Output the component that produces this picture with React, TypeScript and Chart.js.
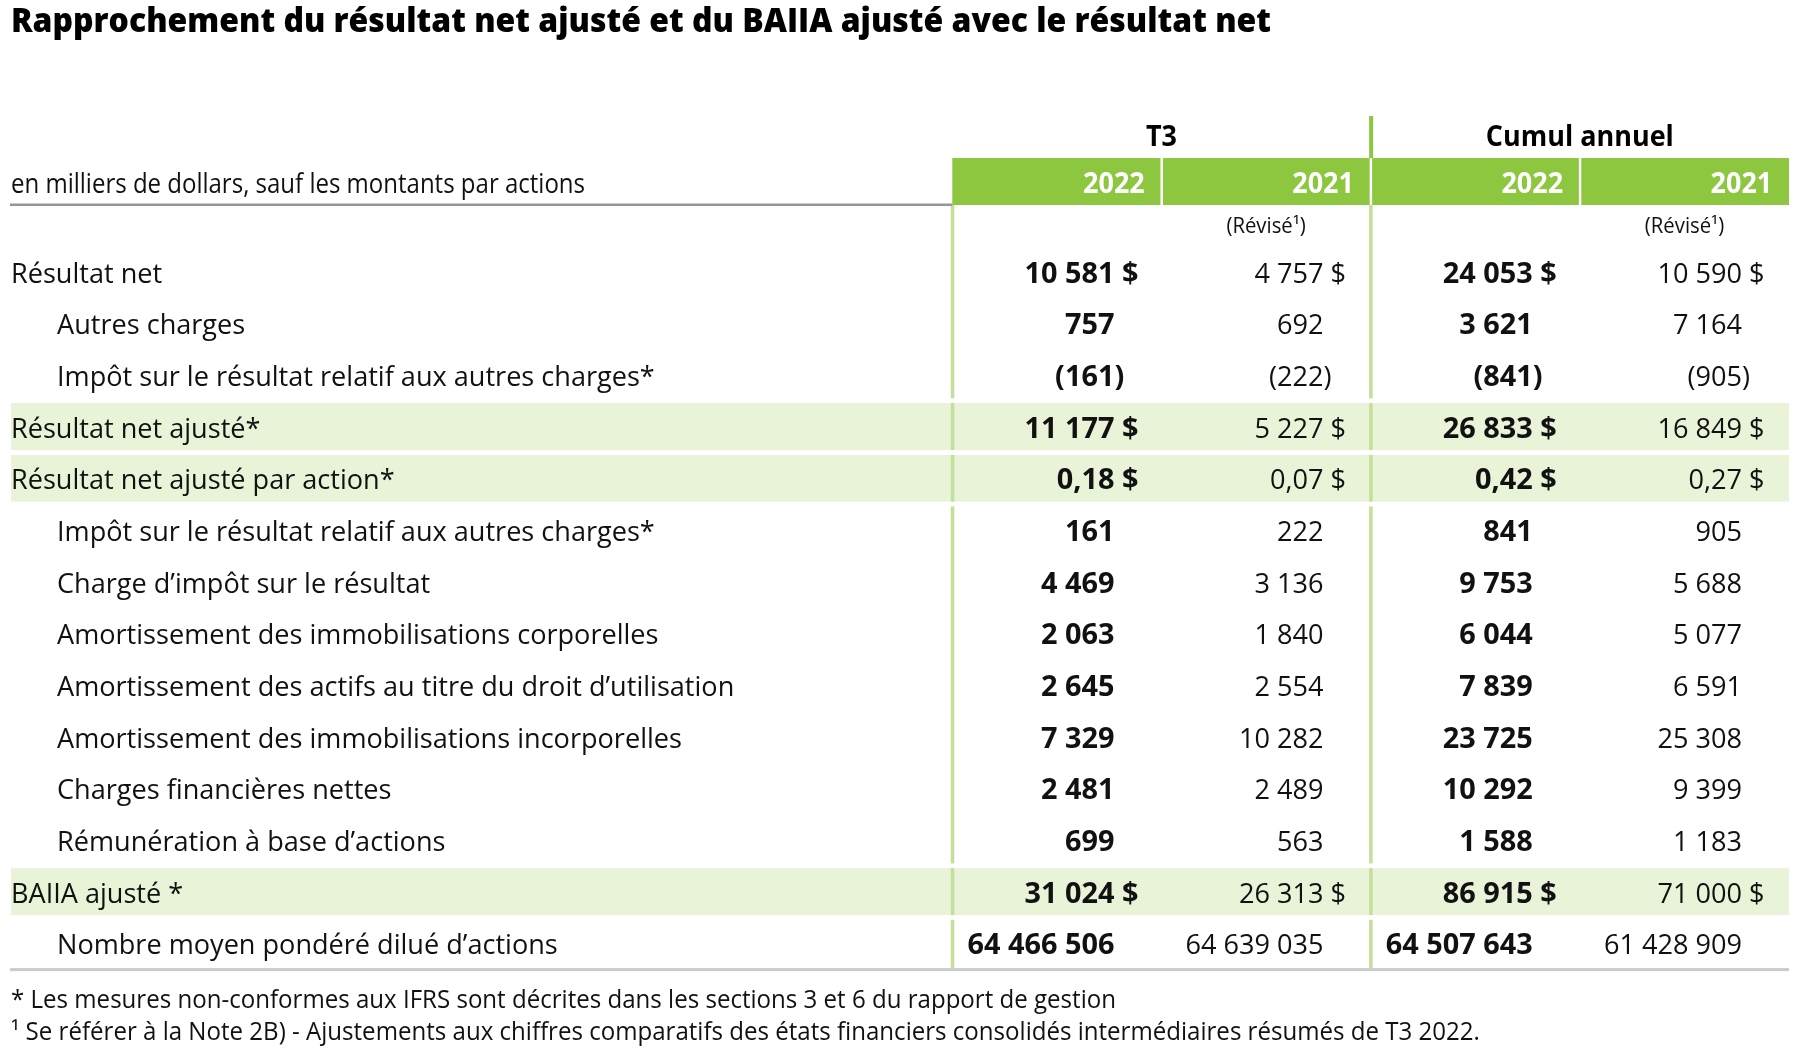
import React, { useEffect, useRef } from 'react';
import { Chart, registerables } from 'chart.js';

Chart.register(...registerables);

// ---------- data ----------
const titleText = 'Rapprochement du résultat net ajusté et du BAIIA ajusté avec le résultat net';
const unitNote = 'en milliers de dollars, sauf les montants par actions';
const groupTitles = ['T3', 'Cumul annuel'];
const columnYears = ['2022', '2021', '2022', '2021'];
const revisedColumns = [false, true, false, true];
const boldColumns = [true, false, true, false];
const revisedText = '(Révisé¹)';

const rowLabels = [
  'Résultat net',
  'Autres charges',
  'Impôt sur le résultat relatif aux autres charges*',
  'Résultat net ajusté*',
  'Résultat net ajusté par action*',
  'Impôt sur le résultat relatif aux autres charges*',
  'Charge d’impôt sur le résultat',
  'Amortissement des immobilisations corporelles',
  'Amortissement des actifs au titre du droit d’utilisation',
  'Amortissement des immobilisations incorporelles',
  'Charges financières nettes',
  'Rémunération à base d’actions',
  'BAIIA ajusté *',
  'Nombre moyen pondéré dilué d’actions',
];
const rowIndent = [0, 1, 1, 0, 0, 1, 1, 1, 1, 1, 1, 1, 0, 1];
const highlightedRows = [3, 4, 12];
const dollarRows = [0, 3, 4, 12];
const perShareRows = [4];

const t3_2022 = [10581, 757, -161, 11177, 0.18, 161, 4469, 2063, 2645, 7329, 2481, 699, 31024, 64466506];
const t3_2021 = [4757, 692, -222, 5227, 0.07, 222, 3136, 1840, 2554, 10282, 2489, 563, 26313, 64639035];
const ytd_2022 = [24053, 3621, -841, 26833, 0.42, 841, 9753, 6044, 7839, 23725, 10292, 1588, 86915, 64507643];
const ytd_2021 = [10590, 7164, -905, 16849, 0.27, 905, 5688, 5077, 6591, 25308, 9399, 1183, 71000, 61428909];
const valueColumns = [t3_2022, t3_2021, ytd_2022, ytd_2021];

const footnotes = [
  '* Les mesures non-conformes aux IFRS sont décrites dans les sections 3 et 6 du rapport de gestion',
  '¹ Se référer à la Note 2B) - Ajustements aux chiffres comparatifs des états financiers consolidés intermédiaires résumés de T3 2022.',
];

// ---------- style / layout ----------
const FAMILY = '"Open Sans", "Noto Sans", sans-serif';
const GREEN = '#8dc63f';
const LIGHT_GREEN_BG = '#e8f3d8';
const LIGHT_GREEN_LINE = '#c3e09b';
const GRAY_TOP = '#939598';
const GRAY_BOTTOM = '#c9cacc';
const TEXT = '#111111';

const INDENT = 0.22; // in x units
const NUM_ANCHOR = 0.775;
const YEAR_ANCHOR = 0.92;
const REVISED_ANCHOR = 0.69;
const BASE = 0.215;

function groupDigits(n: number) {
  return String(Math.round(n)).replace(/\B(?=(\d{3})+(?!\d))/g, ' ');
}
function formatCell(v: number, r: number) {
  const neg = v < 0;
  const a = Math.abs(v);
  const s = perShareRows.includes(r) ? a.toFixed(2).replace('.', ',') : groupDigits(a);
  if (neg) return { core: '(' + s, tail: ')' };
  return { core: s, tail: dollarRows.includes(r) ? ' $' : '' };
}

function measure(ctx: CanvasRenderingContext2D, font: string, text: string) {
  ctx.save();
  ctx.font = font;
  const w = ctx.measureText(text).width;
  ctx.restore();
  return w;
}

function drawText(
  ctx: CanvasRenderingContext2D,
  text: string,
  px: number,
  py: number,
  font: string,
  color: string,
  align: CanvasTextAlign,
  sx: number
) {
  ctx.save();
  ctx.font = font;
  ctx.fillStyle = color;
  ctx.textBaseline = 'alphabetic';
  ctx.textAlign = align;
  ctx.translate(px, py);
  ctx.scale(sx, 1);
  ctx.fillText(text, 0, 0);
  ctx.restore();
}

const F_REG = `400 28px ${FAMILY}`;
const F_NOTE = `400 27px ${FAMILY}`;
const F_BOLD = `700 28px ${FAMILY}`;
const F_HEAD = `700 28px ${FAMILY}`;
const F_TITLE = `800 34px ${FAMILY}`;
const F_SMALL = `400 21px ${FAMILY}`;
const F_FOOT = `400 25px ${FAMILY}`;

const tablePlugin = {
  id: 'tablePlugin',
  beforeDatasetsDraw(chart: any) {
    const { ctx, chartArea } = chart;
    const x = chart.scales.x;
    const y = chart.scales.y;
    const L = chartArea.left;
    const R = chartArea.right;
    ctx.save();
    // highlighted rows
    ctx.fillStyle = LIGHT_GREEN_BG;
    highlightedRows.forEach((r) => {
      const t = y.getPixelForValue(r - 0.455);
      const b = y.getPixelForValue(r + 0.455);
      ctx.fillRect(L, t, R - L, b - t);
    });
    // body vertical lines
    ctx.fillStyle = LIGHT_GREEN_LINE;
    [0, 2].forEach((c) => {
      const px = x.getPixelForValue(c);
      const t = y.getPixelForValue(-1.287);
      const b = y.getPixelForValue(13.48);
      ctx.fillRect(px - 1.5, t, 3.5, b - t);
    });
    // white gaps around highlighted rows
    ctx.fillStyle = '#ffffff';
    highlightedRows.forEach((r) => {
      [[r - 0.545, r - 0.455], [r + 0.455, r + 0.545]].forEach(([a, b]) => {
        const t = y.getPixelForValue(a);
        const bb = y.getPixelForValue(b);
        ctx.fillRect(L, t, R - L, bb - t);
      });
    });
    // header band
    const bandT = y.getPixelForValue(-2.196);
    const bandB = y.getPixelForValue(-1.287);
    const bandL = x.getPixelForValue(0);
    ctx.fillStyle = GREEN;
    ctx.fillRect(bandL, bandT, R - bandL, bandB - bandT);
    // white dividers in band
    ctx.fillStyle = '#ffffff';
    [1, 2, 3].forEach((c) => {
      const px = x.getPixelForValue(c);
      ctx.fillRect(px - 1, bandT, 2.5, bandB - bandT);
    });
    // green line between groups above band
    ctx.fillStyle = GREEN;
    const gx = x.getPixelForValue(2);
    const gt = y.getPixelForValue(-3.01);
    ctx.fillRect(gx - 1.5, gt, 4, bandT - gt);
    // gray line under unit note
    ctx.fillStyle = GRAY_TOP;
    ctx.fillRect(L - 1, bandB - 1.5, bandL - L + 1, 2.5);
    // bottom gray line
    ctx.fillStyle = GRAY_BOTTOM;
    const by = y.getPixelForValue(13.48);
    ctx.fillRect(L - 1, by, R - L + 1, 3);
    ctx.restore();
  },
  afterDatasetsDraw(chart: any) {
    const { ctx } = chart;
    const x = chart.scales.x;
    const y = chart.scales.y;
    const off = y.getPixelForValue(BASE) - y.getPixelForValue(0);

    const sxReg =
      (592 + 683) /
      (measure(ctx, F_REG, 'Impôt sur le résultat relatif aux autres charges*') +
        measure(ctx, F_REG, 'Amortissement des actifs au titre du droit d’utilisation'));
    const sxNote = 574 / measure(ctx, F_NOTE, unitNote);
    const sxBold = 147 / measure(ctx, F_BOLD, '64 466 506');
    const sxHead = 188 / measure(ctx, F_HEAD, 'Cumul annuel');
    const sxTitle = 1260 / measure(ctx, F_TITLE, titleText);
    const sxFoot = 1105 / measure(ctx, F_FOOT, footnotes[0]);

    // title
    drawText(ctx, titleText, x.getPixelForValue(-4.5), y.getPixelForValue(-4.634), F_TITLE, '#000', 'left', sxTitle);
    // group titles
    groupTitles.forEach((g, i) => {
      drawText(ctx, g, x.getPixelForValue(1 + i * 2), y.getPixelForValue(-2.43), F_HEAD, '#000', 'center', sxHead);
    });
    // unit note
    drawText(ctx, unitNote, x.getPixelForValue(-4.5), y.getPixelForValue(-1.52), F_NOTE, TEXT, 'left', sxNote);
    // years
    columnYears.forEach((yr, c) => {
      drawText(ctx, yr, x.getPixelForValue(c + YEAR_ANCHOR), y.getPixelForValue(-1.513), F_HEAD, '#ffffff', 'right', sxHead);
      if (revisedColumns[c]) {
        drawText(ctx, revisedText, x.getPixelForValue(c + REVISED_ANCHOR), y.getPixelForValue(-0.745), F_SMALL, TEXT, 'right', sxReg);
      }
    });

    // datasets: labels and values
    chart.data.datasets.forEach((ds: any, di: number) => {
      const meta = chart.getDatasetMeta(di);
      meta.data.forEach((el: any, r: number) => {
        const py = el.y + off;
        if (ds.kind === 'label') {
          drawText(ctx, rowLabels[r], el.x, py, F_REG, TEXT, 'left', sxReg);
        } else {
          const col = ds.col as number;
          const bold = boldColumns[col];
          const { core, tail } = formatCell(valueColumns[col][r], r);
          const f = bold ? F_BOLD : F_REG;
          const s = bold ? sxBold : sxReg;
          drawText(ctx, core, el.x, py, f, TEXT, 'right', s);
          if (tail) drawText(ctx, tail, el.x, py, f, TEXT, 'left', s);
        }
      });
    });

    // footnotes
    drawText(ctx, footnotes[0], x.getPixelForValue(-4.5), y.getPixelForValue(14.25), F_FOOT, TEXT, 'left', sxFoot);
    drawText(ctx, footnotes[1], x.getPixelForValue(-4.5), y.getPixelForValue(14.87), F_FOOT, TEXT, 'left', sxFoot);
  },
};

export default function App() {
  const ref = useRef<HTMLCanvasElement>(null);
  useEffect(() => {
    const canvas = ref.current;
    if (!canvas) return;
    const datasets: any[] = [
      {
        kind: 'label',
        label: 'labels',
        data: rowLabels.map((_, r) => ({ x: -4.5 + rowIndent[r] * INDENT, y: r })),
        pointRadius: 0,
        pointHoverRadius: 0,
      },
      ...valueColumns.map((vals, c) => ({
        kind: 'value',
        col: c,
        label: `${groupTitles[Math.floor(c / 2)]} ${columnYears[c]}`,
        data: vals.map((_, r) => ({ x: c + NUM_ANCHOR, y: r })),
        pointRadius: 0,
        pointHoverRadius: 0,
      })),
    ];
    const chart = new Chart(canvas, {
      type: 'scatter',
      data: { datasets },
      options: {
        responsive: false,
        animation: false,
        devicePixelRatio: 1,
        events: [],
        layout: { padding: { left: 11, right: 11, top: 101, bottom: 0 } },
        scales: {
          x: { type: 'linear', min: -4.5, max: 4, display: false },
          y: { type: 'linear', min: -3.3, max: 15.2, reverse: true, display: false },
        },
        plugins: {
          legend: { display: false },
          tooltip: { enabled: false },
          title: { display: false },
        },
      },
      plugins: [tablePlugin],
    } as any);
    return () => chart.destroy();
  }, []);
  return (
    <div style={{ position: 'fixed', left: 0, top: 0, width: 1800, height: 1057, background: '#ffffff' }}>
      <canvas ref={ref} width={1800} height={1057} style={{ display: 'block' }} />
    </div>
  );
}
